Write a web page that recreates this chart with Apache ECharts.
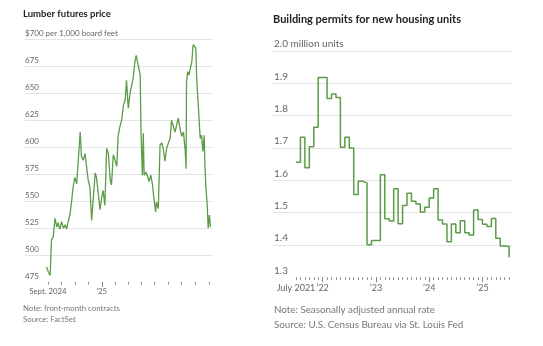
<!DOCTYPE html>
<html>
<head>
<meta charset="utf-8">
<script src="https://cdn.jsdelivr.net/npm/echarts@6/dist/echarts.min.js"></script>
<style>
html,body{margin:0;padding:0;background:#fff;}
#c{width:543px;height:346px;}
</style>
</head>
<body>
<div id="c"></div>
<script>
// ---------- Lumber futures (days since 2024-09-01, $ per 1,000 board feet) ----------
const lumberDay = [-3,1,5,8,12,16,20,23,27,31,35,39,42,46,50,54,57,61,65,69,73,76,80,84,88,91,95,99,103,107,110,114,118,122,125,129,133,137,141,144,148,152,156,159,163,167,171,175,178,182,186,190,193,197,200,203,205,209,211,214,216,218,222,225,229,233,237,240,244,246,250,254,258,261,265,269,273,277,280,284,288,292,295,299,303,307,311,313,314,317,320,322,326,329,332,335,337,341,345,348,351,354,356,358,361,363,366,368];
const lumberPrice = [489,484,481,514,517,534,526,530,524,531,525,528,524,524,538,551,563,572,566,589,614,591,588,594,593,570,563,532,554,576,572,557,542,554,560,546,599,594,570,565,593,588,582,610,619,625,639,644,662,636,650,658,664,679,685,679,678,667,611,574,613,574,577,574,568,574,565,553,540,549,543,602,604,599,587,599,604,608,625,625,614,613,627,618,610,614,597,580,661,670,667,672,679,695,695,692,664,636,608,611,596,611,580,562,546,525,537,526];
const lumberMonthTicks = [0,30,61,91,122,153,181,212,242,273,303,334,365];
const lumberYearTicks = [122];
const lumberXLabels = {0:'Sept. 2024', 122:"\u201925"};
const lumberYTicks = [475,500,525,550,575,600,625,650,675,700];

// ---------- Building permits (monthly, million units, SAAR) ----------
const permitStart = [2021, 7];
const permits = [1.656,1.733,1.639,1.704,1.764,1.918,1.918,1.853,1.867,1.856,1.702,1.733,1.700,1.556,1.597,1.592,1.401,1.414,1.414,1.617,1.481,1.474,1.574,1.466,1.522,1.560,1.535,1.527,1.502,1.517,1.545,1.574,1.477,1.465,1.410,1.465,1.438,1.475,1.438,1.431,1.508,1.479,1.464,1.457,1.482,1.421,1.397,1.395,1.361];
const permitYearTicks = [6,18,30,42];
const permitXLabels = {0:'July 2021', 6:"\u201922", 18:"\u201923", 30:"\u201924", 42:"\u201925"};
const permitYTicks = [1.3,1.4,1.5,1.6,1.7,1.8,1.9,2.0];

const FONT = 'Lato, "Noto Sans", sans-serif';
const GREEN = '#5c9c48';
const GRID = '#e4e4e4';
const LBL = '#666';

const permitMonthTicks = permits.map((v, i) => i);

const chart = echarts.init(document.getElementById('c'), null, {renderer: 'canvas'});
chart.setOption({
  animation: false,
  backgroundColor: '#fff',
  title: [
    {text: 'Lumber futures price', left: 23, top: 9, padding: 0,
     textStyle: {fontFamily: FONT, fontSize: 9.5, fontWeight: 'bold', color: '#222'}},
    {text: 'Building permits for new housing units', left: 273, top: 14, padding: 0,
     textStyle: {fontFamily: FONT, fontSize: 11, fontWeight: 'bold', color: '#222'}},
    {text: 'Note: front-month contracts', left: 23, top: 304, padding: 0,
     textStyle: {fontFamily: FONT, fontSize: 7.8, fontWeight: 'normal', color: '#777'}},
    {text: 'Source: FactSet', left: 23, top: 315, padding: 0,
     textStyle: {fontFamily: FONT, fontSize: 7.8, fontWeight: 'normal', color: '#777'}},
    {text: 'Note: Seasonally adjusted annual rate', left: 274, top: 305, padding: 0,
     textStyle: {fontFamily: FONT, fontSize: 9.8, fontWeight: 'normal', color: '#777'}},
    {text: 'Source: U.S. Census Bureau via St. Louis Fed', left: 274, top: 320, padding: 0,
     textStyle: {fontFamily: FONT, fontSize: 9.8, fontWeight: 'normal', color: '#777'}}
  ],
  grid: [
    {left: 25, right: 330, top: 39.3, bottom: 64},
    {left: 273, right: 31, top: 51, bottom: 68.7}
  ],
  xAxis: [
    {gridIndex: 0, type: 'value', position: 'bottom', min: -52, max: 374,
     axisLine: {show: false}, splitLine: {show: false},
     axisTick: {show: true, customValues: lumberMonthTicks, length: 2.5, lineStyle: {color: '#888', width: 1}},
     axisLabel: {show: true, customValues: Object.keys(lumberXLabels).map(Number), margin: 5,
       fontFamily: FONT, fontSize: 7.8, color: LBL,
       formatter: v => lumberXLabels[v] || ''}},
    {gridIndex: 0, type: 'value', position: 'bottom', min: -52, max: 374,
     axisLine: {show: false}, splitLine: {show: false}, axisLabel: {show: false},
     axisTick: {show: true, customValues: lumberYearTicks, length: 5, lineStyle: {color: '#888', width: 1}}},
    {gridIndex: 1, type: 'value', position: 'bottom', min: -5.18, max: 48.65,
     axisLine: {show: false}, splitLine: {show: false},
     axisTick: {show: true, customValues: permitMonthTicks, length: 2.5, lineStyle: {color: '#888', width: 1}},
     axisLabel: {show: true, customValues: Object.keys(permitXLabels).map(Number), margin: 6,
       fontFamily: FONT, fontSize: 9, color: LBL,
       formatter: v => permitXLabels[v] || ''}},
    {gridIndex: 1, type: 'value', position: 'bottom', min: -5.18, max: 48.65,
     axisLine: {show: false}, splitLine: {show: false}, axisLabel: {show: false},
     axisTick: {show: true, customValues: permitYearTicks, length: 5, lineStyle: {color: '#888', width: 1}}}
  ],
  yAxis: [
    {gridIndex: 0, type: 'value', min: 475, max: 700, interval: 25,
     axisLine: {show: false}, axisTick: {show: false},
     splitLine: {show: true, showMinLine: false, lineStyle: {color: GRID, width: 1}},
     axisLabel: {inside: true, verticalAlign: 'bottom', margin: 0, padding: [0, 0, 2, 0],
       fontFamily: FONT, fontSize: 8, color: LBL,
       formatter: v => v === 700 ? '$700 per 1,000 board feet' : String(v)}},
    {gridIndex: 1, type: 'value', min: 1.3, max: 2.0, interval: 0.1,
     axisLine: {show: false}, axisTick: {show: false},
     splitLine: {show: true, showMinLine: false, lineStyle: {color: GRID, width: 1}},
     axisLabel: {inside: true, verticalAlign: 'bottom', margin: 0, padding: [0, 0, 2, 1],
       fontFamily: FONT, fontSize: 10, color: LBL,
       formatter: v => Math.abs(v - 2) < 1e-9 ? '2.0 million units' : v.toFixed(1)}}
  ],
  series: [
    {type: 'line', xAxisIndex: 0, yAxisIndex: 0, showSymbol: false, clip: false,
     lineStyle: {color: GREEN, width: 1.3}, itemStyle: {color: GREEN},
     data: lumberDay.map((d, i) => [d, lumberPrice[i]])},
    {type: 'line', xAxisIndex: 2, yAxisIndex: 1, showSymbol: false, clip: false, step: 'end',
     lineStyle: {color: GREEN, width: 1.5}, itemStyle: {color: GREEN},
     data: permits.map((v, i) => [i, v])}
  ]
});
</script>
</body>
</html>
